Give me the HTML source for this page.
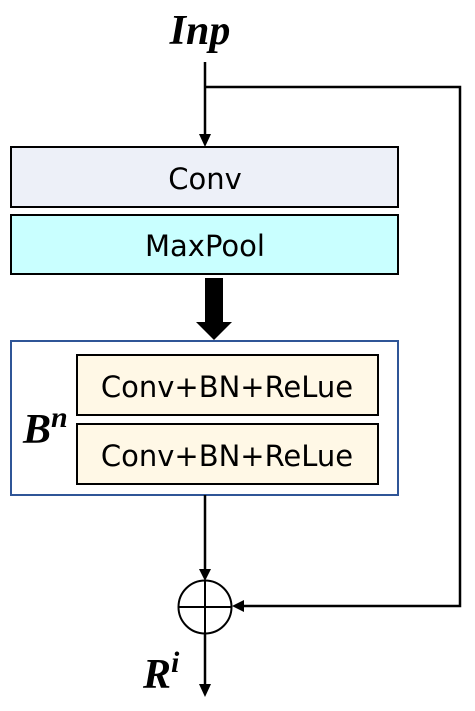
<!DOCTYPE html>
<html><head><meta charset="utf-8"><style>
html,body{margin:0;padding:0;background:#fff;}
svg{display:block;}
.t{font-family:"DejaVu Sans","Liberation Sans",sans-serif;font-size:29px;fill:#000;}
.m{font-family:"Liberation Serif",serif;font-weight:bold;font-style:italic;fill:#000;}
</style></head><body>
<svg width="475" height="711" viewBox="0 0 475 711" xmlns="http://www.w3.org/2000/svg">
<text class="m" x="200" y="44" font-size="42" text-anchor="middle">Inp</text>
<line x1="205" y1="62" x2="205" y2="137" stroke="#000" stroke-width="2.5"/>
<polygon points="199,134 211,134 205,147" fill="#000"/>
<polyline points="205,87 460,87 460,606 242,606" fill="none" stroke="#000" stroke-width="2.5"/>
<polygon points="244,600 244,612 232,606" fill="#000"/>
<rect x="11" y="147" width="387" height="60" fill="#EDF0F8" stroke="#000" stroke-width="2"/>
<text class="t" x="205" y="189" text-anchor="middle">Conv</text>
<rect x="11" y="215" width="387" height="59" fill="#C9FFFF" stroke="#000" stroke-width="2"/>
<text class="t" x="205" y="256" text-anchor="middle">MaxPool</text>
<rect x="205" y="278" width="18" height="45" fill="#000"/>
<polygon points="196,322 232,322 214,340" fill="#000"/>
<rect x="11" y="341" width="387" height="154" fill="#fff" stroke="#2F5597" stroke-width="2"/>
<rect x="77" y="355" width="301" height="60" fill="#FFF8E6" stroke="#000" stroke-width="2"/>
<text class="t" x="227" y="397" text-anchor="middle">Conv+BN+ReLue</text>
<rect x="77" y="424" width="301" height="60" fill="#FFF8E6" stroke="#000" stroke-width="2"/>
<text class="t" x="227" y="466" text-anchor="middle">Conv+BN+ReLue</text>
<text class="m" x="23" y="443" font-size="42">B<tspan font-size="30" dy="-16">n</tspan></text>
<line x1="205" y1="495" x2="205" y2="572" stroke="#000" stroke-width="2.5"/>
<polygon points="199,569 211,569 205,581" fill="#000"/>
<circle cx="205" cy="607" r="26.5" fill="#fff" stroke="#000" stroke-width="2"/>
<line x1="205" y1="581" x2="205" y2="633" stroke="#000" stroke-width="2"/>
<line x1="178" y1="607" x2="232" y2="607" stroke="#000" stroke-width="2"/>
<line x1="205" y1="633" x2="205" y2="687" stroke="#000" stroke-width="2.5"/>
<polygon points="199,684 211,684 205,697" fill="#000"/>
<text class="m" x="143" y="688" font-size="42">R<tspan font-size="30" dy="-16">i</tspan></text>
</svg>
</body></html>
